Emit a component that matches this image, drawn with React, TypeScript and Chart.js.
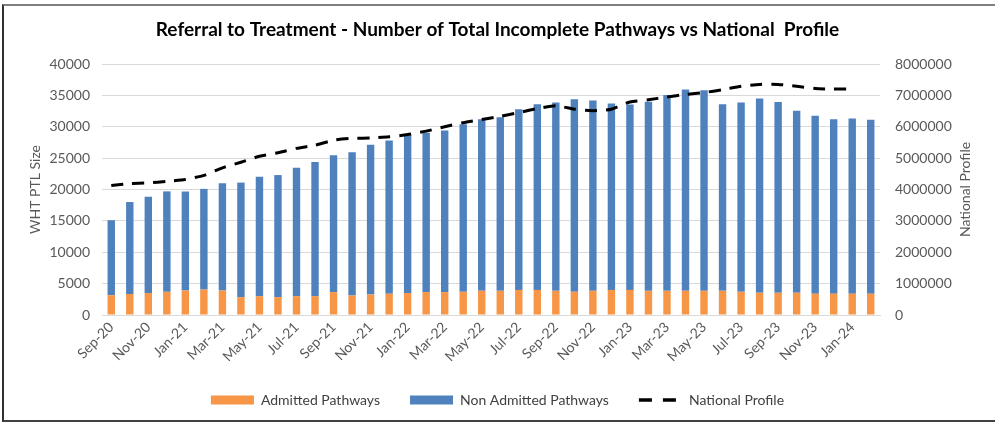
import React, { useEffect, useRef } from 'react';
import { Chart, registerables } from 'chart.js';

Chart.register(...registerables);

const months = [
  'Sep-20', 'Oct-20', 'Nov-20', 'Dec-20', 'Jan-21', 'Feb-21', 'Mar-21', 'Apr-21', 'May-21', 'Jun-21',
  'Jul-21', 'Aug-21', 'Sep-21', 'Oct-21', 'Nov-21', 'Dec-21', 'Jan-22', 'Feb-22', 'Mar-22', 'Apr-22',
  'May-22', 'Jun-22', 'Jul-22', 'Aug-22', 'Sep-22', 'Oct-22', 'Nov-22', 'Dec-22', 'Jan-23', 'Feb-23',
  'Mar-23', 'Apr-23', 'May-23', 'Jun-23', 'Jul-23', 'Aug-23', 'Sep-23', 'Oct-23', 'Nov-23', 'Dec-23',
  'Jan-24', 'Feb-24',
];

const admittedPathways = [
  3150, 3350, 3500, 3700, 3900, 4050, 3900, 2850, 3000, 2850,
  3000, 3000, 3650, 3100, 3250, 3400, 3500, 3650, 3650, 3700,
  3850, 3850, 4000, 4000, 3850, 3700, 3850, 4000, 4000, 3850,
  3850, 3850, 3850, 3850, 3700, 3550, 3550, 3550, 3400, 3400,
  3400, 3400,
];

const nonAdmittedPathways = [
  11950, 14650, 15350, 16000, 15800, 16050, 17100, 18250, 19050, 19450,
  20450, 21400, 21800, 22850, 23900, 24400, 25150, 25400, 25750, 26700,
  27350, 27650, 28800, 29600, 30000, 30700, 30350, 29700, 29550, 30150,
  31200, 32100, 31950, 29750, 30150, 30950, 30400, 29000, 28350, 27800,
  27900, 27700,
];

const nationalProfile = [
  4130000, 4190000, 4210000, 4260000, 4320000, 4450000, 4690000, 4870000, 5060000, 5170000,
  5310000, 5410000, 5570000, 5630000, 5640000, 5680000, 5750000, 5860000, 6000000, 6130000,
  6230000, 6330000, 6450000, 6580000, 6670000, 6560000, 6510000, 6560000, 6790000, 6860000,
  6950000, 7030000, 7090000, 7180000, 7290000, 7350000, 7350000, 7290000, 7220000, 7200000,
  7200000, null,
];

const chartTitle = 'Referral to Treatment - Number of Total Incomplete Pathways vs National  Profile';
const leftAxisTitle = 'WHT PTL Size';
const rightAxisTitle = 'National Profile';

const FONT = 'Lato, "Open Sans", "DejaVu Sans", sans-serif';
const AXIS_COLOR = '#595959';
const GRID_COLOR = '#D9D9D9';

export default function App() {
  const canvasRef = useRef<HTMLCanvasElement | null>(null);

  useEffect(() => {
    const canvas = canvasRef.current;
    if (!canvas) return;

    const rightTitlePlugin = {
      id: 'rightTitle',
      afterDraw(chart: any) {
        const scale = chart.scales.y1;
        const c = chart.ctx;
        c.save();
        c.translate(scale.right - 30, (chart.chartArea.top + chart.chartArea.bottom) / 2);
        c.rotate(-Math.PI / 2);
        c.font = `14px ${FONT}`;
        c.fillStyle = AXIS_COLOR;
        c.textAlign = 'center';
        c.textBaseline = 'middle';
        c.fillText(rightAxisTitle, 0, 0);
        c.restore();
      },
    };

    const tickFont = { family: FONT, size: 14 };

    const chart = new Chart(canvas, {
      type: 'bar',
      data: {
        labels: months,
        datasets: [
          {
            type: 'bar',
            label: 'Admitted Pathways',
            data: admittedPathways,
            backgroundColor: '#F79646',
            stack: 's',
            yAxisID: 'y',
            order: 2,
            barPercentage: 0.4,
            categoryPercentage: 1,
          },
          {
            type: 'bar',
            label: 'Non Admitted Pathways',
            data: nonAdmittedPathways,
            backgroundColor: '#4F81BD',
            stack: 's',
            yAxisID: 'y',
            order: 2,
            barPercentage: 0.4,
            categoryPercentage: 1,
          },
          {
            type: 'line',
            label: 'National Profile',
            data: nationalProfile as any,
            yAxisID: 'y1',
            borderColor: '#000000',
            backgroundColor: '#000000',
            borderWidth: 3,
            borderDash: [12, 9],
            pointRadius: 0,
            tension: 0.2,
            fill: false,
            order: 1,
          },
        ] as any,
      },
      options: {
        responsive: false,
        animation: false,
        layout: { padding: { left: 0, right: 0, top: 0, bottom: 5 } },
        scales: {
          x: {
            stacked: true,
            grid: { display: false, drawTicks: false },
            border: { display: true, color: GRID_COLOR, width: 1 },
            ticks: {
              autoSkip: false,
              maxRotation: 45,
              minRotation: 45,
              padding: 4,
              color: AXIS_COLOR,
              font: tickFont,
              callback: (_v: any, i: number) => (i % 2 === 0 ? months[i] : ''),
            },
            afterFit: (s: any) => {
              s.height = 48;
            },
          },
          y: {
            stacked: true,
            position: 'left',
            min: 0,
            max: 40000,
            ticks: {
              stepSize: 5000,
              padding: 12,
              color: AXIS_COLOR,
              font: tickFont,
              callback: (v: any) => String(v),
            },
            grid: { color: GRID_COLOR, drawTicks: false },
            border: { display: false },
            title: {
              display: true,
              text: leftAxisTitle,
              color: AXIS_COLOR,
              font: tickFont,
              padding: { top: 27, bottom: 0 },
            },
            afterFit: (s: any) => {
              s.width = 102;
            },
          },
          y1: {
            position: 'right',
            min: 0,
            max: 8000000,
            ticks: {
              stepSize: 1000000,
              padding: 15,
              color: AXIS_COLOR,
              font: tickFont,
              callback: (v: any) => String(v),
            },
            grid: { display: false, drawTicks: false },
            border: { display: false },
            afterFit: (s: any) => {
              s.width = 115;
            },
          },
        },
        plugins: {
          title: {
            display: true,
            text: chartTitle,
            color: '#000000',
            font: { family: FONT, size: 19, weight: 'bold' },
            padding: { top: 18.6, bottom: 22.6 },
          },
          legend: {
            position: 'bottom',
            labels: {
              usePointStyle: true,
              pointStyleWidth: 43,
              boxHeight: 9,
              padding: 30,
              color: '#404040',
              font: { family: FONT, size: 14 },
              generateLabels: (ch: any) => {
                const items = (Chart.defaults.plugins.legend.labels as any).generateLabels(ch);
                items.sort((a: any, b: any) => a.datasetIndex - b.datasetIndex);
                return items.map((it: any) =>
                  it.datasetIndex === 2
                    ? { ...it, pointStyle: 'line', lineWidth: 3.5, lineDash: [13, 11], lineCap: 'butt' }
                    : { ...it, pointStyle: 'rect', lineWidth: 0 }
                );
              },
            },
          },
          tooltip: { enabled: false },
        },
      } as any,
      plugins: [rightTitlePlugin],
    });

    return () => {
      chart.destroy();
    };
  }, []);

  return (
    <div style={{ position: 'absolute', left: 0, top: 0, width: 995, height: 422, background: '#ffffff' }}>
      <canvas ref={canvasRef} width={995} height={422} style={{ position: 'absolute', left: 0, top: 0, width: 995, height: 422 }} />
      <div
        style={{
          position: 'absolute',
          left: 2,
          top: 4,
          width: 991,
          height: 414,
          borderTop: '2px solid #7f7f7f',
          borderLeft: '2px solid #303030',
          borderBottom: '2px solid #404040',
          borderRight: '1px solid #cccccc',
          pointerEvents: 'none',
        }}
      />
    </div>
  );
}
